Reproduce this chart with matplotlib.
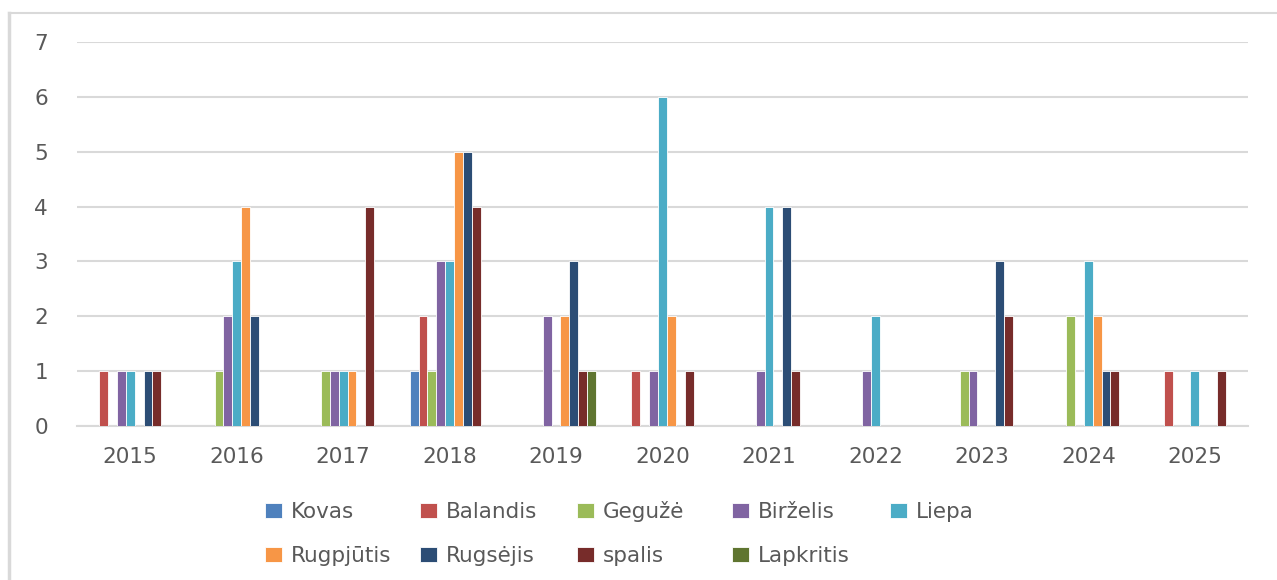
import matplotlib.pyplot as plt
import numpy as np
from matplotlib.lines import Line2D

years = ['2015', '2016', '2017', '2018', '2019', '2020', '2021', '2022', '2023', '2024', '2025']
months = ['Kovas', 'Balandis', 'Gegužė', 'Birželis', 'Liepa',
          'Rugpjūtis', 'Rugsėjis', 'spalis', 'Lapkritis']
colors = ['#4F81BD', '#C0504D', '#9BBB59', '#8064A2', '#4BACC6',
          '#F79646', '#2C4D75', '#772C2A', '#5F7530']

# counts per month, one list per month across the years
kovas     = [0, 0, 0, 1, 0, 0, 0, 0, 0, 0, 0]
balandis  = [1, 0, 0, 2, 0, 1, 0, 0, 0, 0, 1]
geguze    = [0, 1, 1, 1, 0, 0, 0, 0, 1, 2, 0]
birzelis  = [1, 2, 1, 3, 2, 1, 1, 1, 1, 0, 0]
liepa     = [1, 3, 1, 3, 0, 6, 4, 2, 0, 3, 1]
rugpjutis = [0, 4, 1, 5, 2, 2, 0, 0, 0, 2, 0]
rugsejis  = [1, 2, 0, 5, 3, 0, 4, 0, 3, 1, 0]
spalis    = [1, 0, 4, 4, 1, 1, 1, 0, 2, 1, 1]
lapkritis = [0, 0, 0, 0, 1, 0, 0, 0, 0, 0, 0]

series = [kovas, balandis, geguze, birzelis, liepa, rugpjutis, rugsejis, spalis, lapkritis]

plt.rcParams['font.family'] = ['DejaVu Sans']
txt = '#595959'
fs = 15.5

fig = plt.figure(figsize=(12.77, 5.80), dpi=100)
ax = fig.add_axes([77 / 1277, 154 / 580, (1248 - 77) / 1277, (426 - 42) / 580])

x = np.arange(len(years))
n = len(series)
group = 0.75
w = group / n
for i, (vals, name, c) in enumerate(zip(series, months, colors)):
    ax.bar(x - group / 2 + w * (i + 0.5), vals, w, color=c, label=name,
           edgecolor='white', linewidth=0.6, zorder=3)

ax.set_xlim(-0.5, len(years) - 0.5)
ax.set_ylim(0, 7)
ax.set_yticks(range(0, 8))
ax.set_xticks(x)
ax.set_xticklabels(years)
ax.grid(axis='y', color='#d9d9d9', linewidth=1.5, zorder=0)
for s in ax.spines.values():
    s.set_visible(False)
ax.spines['bottom'].set_visible(True)
ax.spines['bottom'].set_color('#d9d9d9')
ax.spines['bottom'].set_linewidth(1.5)
ax.tick_params(axis='both', length=0, labelsize=fs, colors=txt)
ax.tick_params(axis='y', pad=21)
ax.tick_params(axis='x', pad=15)

# legend: five fixed-width columns, filled row by row
handles, labels = ax.get_legend_handles_labels()
col_x = [250, 405, 562, 717, 875]
col_top = [487, 487, 486, 487, 487]  # the caron in "Gegužė" pushes that column down a bit
for j, (cx, cy) in enumerate(zip(col_x, col_top)):
    leg = fig.legend(handles[j::5], labels[j::5], loc='upper left',
                     bbox_to_anchor=(cx / 1277, 1 - cy / 580), ncol=1,
                     frameon=False, fontsize=fs, handlelength=0.8, handleheight=0.65,
                     handletextpad=0.4, labelspacing=1.12, borderpad=0.2)
    for t in leg.get_texts():
        t.set_color(txt)

# chart frame: only top and left edges are visible in the original
fig.lines.append(Line2D([8.5 / 1277, 1], [1 - 12.5 / 580, 1 - 12.5 / 580],
                        transform=fig.transFigure, color='#d9d9d9', linewidth=1.5))
fig.lines.append(Line2D([8.5 / 1277, 8.5 / 1277], [0, 1 - 12.5 / 580],
                        transform=fig.transFigure, color='#d9d9d9', linewidth=2.5))

fig.savefig('out.png', dpi=100)
